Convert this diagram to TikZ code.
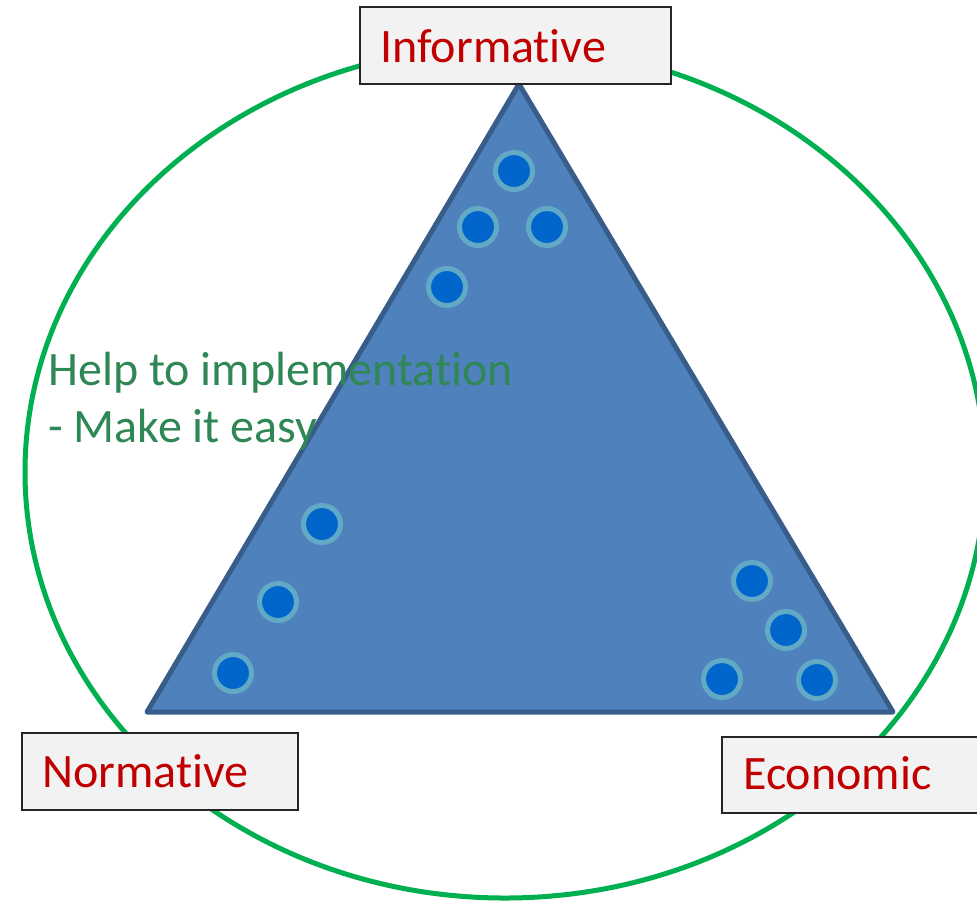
\documentclass[tikz,border=0pt]{standalone}
\usepackage{fontspec}
\setmainfont{Carlito}[Ligatures={NoCommon}]
\definecolor{ringgreen}{HTML}{00B050}
\definecolor{trifill}{HTML}{4F81BD}
\definecolor{triline}{HTML}{385D8A}
\definecolor{dotfill}{HTML}{0066CC}
\definecolor{dotring}{HTML}{62A9C6}
\definecolor{lblred}{HTML}{C00000}
\definecolor{helpgreen}{HTML}{2E8754}
\definecolor{boxfill}{HTML}{F2F2F2}
\def\px{0.75pt}
\tikzset{
  dot/.style={circle, fill=dotfill, draw=dotring, line width=5*\px, minimum size=37*\px, inner sep=0pt},
  labelbox/.style={rectangle, fill=boxfill, draw=black!85, line width=1.8*\px, anchor=north west, inner sep=0pt},
  lbltext/.style={anchor=base west, inner sep=0pt, text=lblred, font=\fontsize{36}{43}\selectfont},
  helptext/.style={anchor=base west, inner sep=0pt, text=helpgreen, font=\fontsize{36}{43}\selectfont},
}
\begin{document}
\begin{tikzpicture}[x=0.75pt,y=-0.75pt]
\useasboundingbox (0,0) rectangle (977,901);
\clip (0,0) rectangle (977,901);
% ellipse
\draw[ringgreen, line width=5*\px] (505,472) ellipse [x radius=480, y radius=426];
% triangle
\coordinate (apex) at (519,84);
\coordinate (bl) at (147,712);
\coordinate (br) at (893,712);
\draw[fill=trifill, draw=triline, line width=5*\px, line join=round] (apex) -- (bl) -- (br) -- cycle;
% dots
\node[dot] (d1) at (514,171) {};
\node[dot] (d2) at (478,227) {};
\node[dot] (d3) at (547,227) {};
\node[dot] (d4) at (447,287) {};
\node[dot] (d5) at (322,524) {};
\node[dot] (d6) at (278,602) {};
\node[dot] (d7) at (233,673) {};
\node[dot] (d8) at (752,581) {};
\node[dot] (d9) at (786,630) {};
\node[dot] (d10) at (722,679) {};
\node[dot] (d11) at (817,680) {};
% help text
\node[helptext] (help1) at (48,385) {Help to implementation};
\node[helptext] (help2) at (48,442) {- Make it easy};
% boxes
\node[labelbox, minimum width=311*\px, minimum height=77*\px] (infobox) at (359,6) {};
\node[lbltext] (info) at (380,62) {Informative};
\node[labelbox, minimum width=276*\px, minimum height=77*\px] (normbox) at (21,732) {};
\node[lbltext] (norm) at (42,787) {Normative};
\node[labelbox, minimum width=256*\px, minimum height=76*\px] (econbox) at (721,736) {};
\node[lbltext] (econ) at (743,789) {Economic};
\end{tikzpicture}
\end{document}
